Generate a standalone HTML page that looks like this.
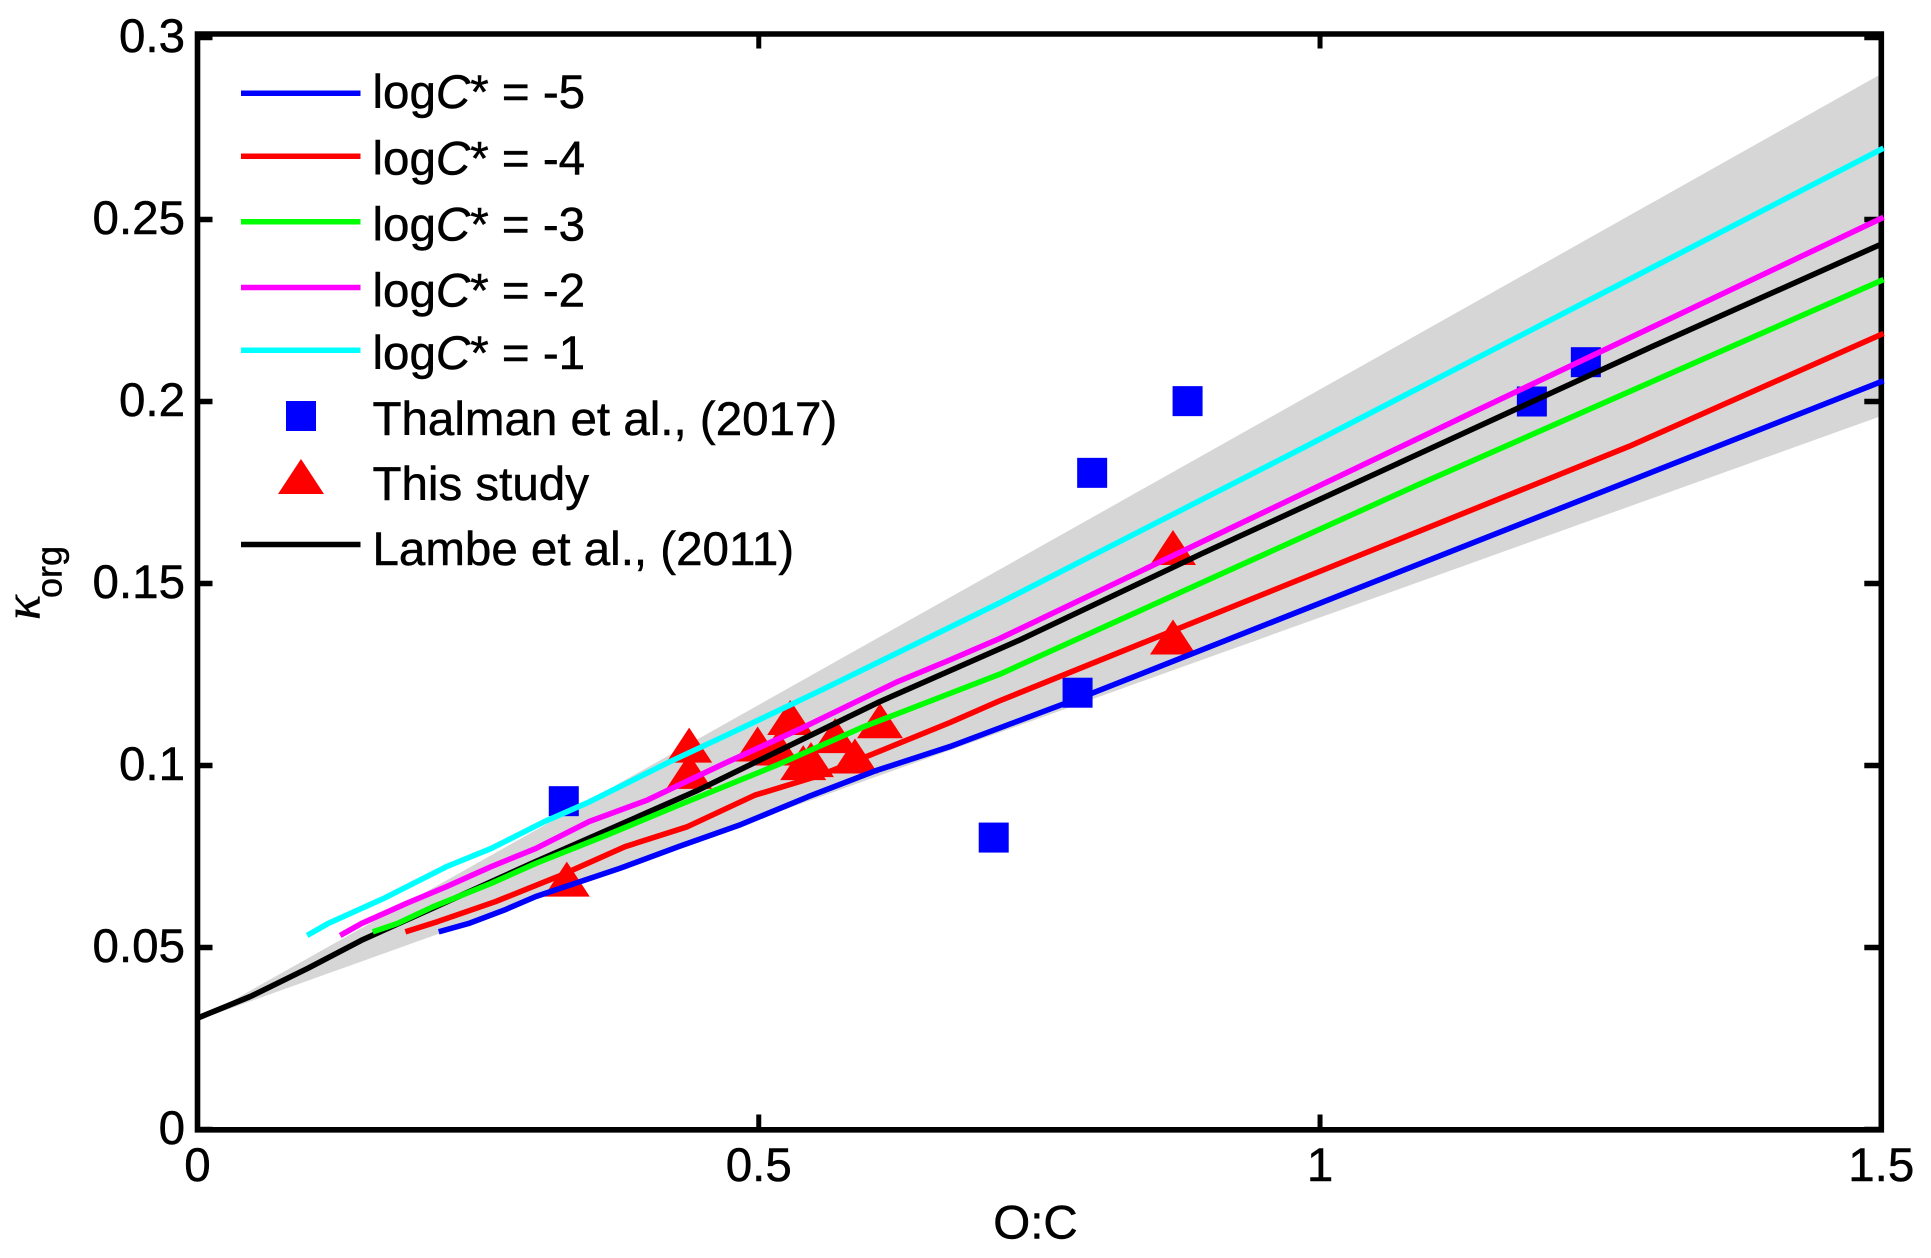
<!DOCTYPE html>
<html>
<head>
<meta charset="utf-8">
<title>Kappa org vs O:C</title>
<style>
html,body{margin:0;padding:0;background:#fff;}
svg{display:block;}
text{font-family:"Liberation Sans",Arial,sans-serif;font-size:47.5px;fill:#000;stroke:#000;stroke-width:0.5px;}
</style>
</head>
<body>
<svg id="chart" xmlns="http://www.w3.org/2000/svg" width="1931" height="1258" viewBox="0 0 1931 1258">
  <rect x="0" y="0" width="1931" height="1258" fill="#fff"/>
  <g id="plot"></g>
  <g>
    <text transform="translate(39.5,620) rotate(-90)" style="font-family:'Liberation Serif','DejaVu Serif',serif;font-style:italic;font-size:52px;">κ</text>
    <text transform="translate(61.7,598) rotate(-90)" style="font-size:36px;">org</text>
  </g>
  <text x="1035.5" y="1238.5" text-anchor="middle">O:C</text>
  <g>
    <g>
      <line x1="241" x2="360.5" y1="93.3" y2="93.3" stroke="#0000ff" stroke-width="5.5"/>
      <text x="372.5" y="108">log<tspan font-style="italic">C</tspan>* = -5</text>
    </g>
    <g>
      <line x1="241" x2="360.5" y1="156.2" y2="156.2" stroke="#ff0000" stroke-width="5.5"/>
      <text x="372.5" y="174.4">log<tspan font-style="italic">C</tspan>* = -4</text>
    </g>
    <g>
      <line x1="241" x2="360.5" y1="221.8" y2="221.8" stroke="#00ff00" stroke-width="5.5"/>
      <text x="372.5" y="240.4">log<tspan font-style="italic">C</tspan>* = -3</text>
    </g>
    <g>
      <line x1="241" x2="360.5" y1="287.5" y2="287.5" stroke="#ff00ff" stroke-width="5.5"/>
      <text x="372.5" y="306.4">log<tspan font-style="italic">C</tspan>* = -2</text>
    </g>
    <g>
      <line x1="241" x2="360.5" y1="350.3" y2="350.3" stroke="#00ffff" stroke-width="5.5"/>
      <text x="372.5" y="369">log<tspan font-style="italic">C</tspan>* = -1</text>
    </g>
    <g>
      <rect x="286" y="401" width="30" height="30" fill="#0000ff"/>
      <text x="372.5" y="435">Thalman et al., (2017)</text>
    </g>
    <g>
      <polygon points="301,459 324,494 278,494" fill="#ff0000"/>
      <text x="372.5" y="500">This study</text>
    </g>
    <g>
      <line x1="241" x2="360.5" y1="544.5" y2="544.5" stroke="#000000" stroke-width="5.5"/>
      <text x="372.5" y="565">Lambe et al., (2011)</text>
    </g>
  </g>
</svg>
<script>
var xTickLabels = ["0","0.5","1","1.5"];
var yTickLabels = ["0","0.05","0.1","0.15","0.2","0.25","0.3"];

var bandX = [0, 1.5];
var bandUpper = [0.03, 0.2900];
var bandLower = [0.03, 0.1960];

var thalmanX = [0.3263, 0.7093, 0.784, 0.797, 0.882, 1.1887, 1.2368];
var thalmanY = [0.0902, 0.0802, 0.12, 0.1804, 0.2001, 0.2, 0.2108];

var studyX = [0.438, 0.438, 0.499, 0.528, 0.517, 0.5396, 0.5465, 0.568, 0.5857, 0.608, 0.329, 0.869, 0.869];
var studyY = [0.1056, 0.0984, 0.1059, 0.1132, 0.1048, 0.1008, 0.1016, 0.1082, 0.1026, 0.1123, 0.0688, 0.1599, 0.1353];

var lambeX = [0, 0.0468, 0.0984, 0.1462, 0.2059, 0.3013, 0.4444, 0.6075, 0.7326, 0.8947, 1.085, 1.2966, 1.499];
var lambeY = [0.0306, 0.0365, 0.0443, 0.052, 0.0603, 0.0736, 0.093, 0.1175, 0.1345, 0.1582, 0.1852, 0.2152, 0.2431];

var blueX = [0.2149, 0.2416, 0.2734, 0.3013, 0.3768, 0.4285, 0.4842, 0.5438, 0.6035, 0.6703, 0.794, 1.138, 1.502];
var blueY = [0.0543, 0.0566, 0.0603, 0.064, 0.0718, 0.0777, 0.0838, 0.0914, 0.0985, 0.1052, 0.1195, 0.1614, 0.2057];

var redX = [0.1852, 0.2138, 0.2654, 0.3211, 0.3808, 0.4365, 0.4961, 0.5557, 0.6703, 0.7148, 1.2755, 1.502];
var redY = [0.0543, 0.0571, 0.0626, 0.0695, 0.0777, 0.0832, 0.0918, 0.0974, 0.1118, 0.1178, 0.1877, 0.2187];

var greenX = [0.1561, 0.178, 0.2098, 0.2615, 0.3013, 0.3648, 0.4285, 0.516, 0.5915, 0.6703, 0.7148, 1.085, 1.502];
var greenY = [0.0543, 0.0566, 0.0612, 0.0676, 0.0731, 0.0809, 0.0891, 0.1001, 0.1104, 0.1198, 0.1251, 0.1768, 0.2335];

var magentaX = [0.1271, 0.1462, 0.186, 0.2217, 0.2615, 0.3013, 0.349, 0.4007, 0.4682, 0.5399, 0.6234, 0.6703, 0.7148, 1.138, 1.502];
var magentaY = [0.0533, 0.0566, 0.0621, 0.0667, 0.0722, 0.0772, 0.0846, 0.0905, 0.1004, 0.1105, 0.123, 0.129, 0.1349, 0.1973, 0.2506];

var cyanX = [0.0977, 0.1164, 0.166, 0.2217, 0.2615, 0.3092, 0.349, 0.4205, 0.4842, 0.5557, 0.6472, 0.7148, 0.9794, 1.502];
var cyanY = [0.0533, 0.0566, 0.0635, 0.0722, 0.0772, 0.0846, 0.09, 0.101, 0.1102, 0.1207, 0.1345, 0.1447, 0.1864, 0.2696];

var NS = "http://www.w3.org/2000/svg";
var plot = document.getElementById("plot");
var left = 197.5, right = 1881.3, bottom = 1129.5, top37 = 37.5;
var xMax = 1.5, yMax = 0.3;

function sx(v) { return left + v / xMax * (right - left); }
function sy(v) { return bottom - v / yMax * (bottom - top37); }

function mk(tag, attrs, parent) {
  var el = document.createElementNS(NS, tag);
  for (var k in attrs) { el.setAttribute(k, attrs[k]); }
  (parent || plot).appendChild(el);
  return el;
}
function pts(xs, ys) {
  return xs.map(function (x, i) { return sx(x).toFixed(2) + "," + sy(ys[i]).toFixed(2); }).join(" ");
}

/* uncertainty band */
var band = mk("polygon", {
  points: pts(bandX.concat(bandX.slice().reverse()), bandUpper.concat(bandLower.slice().reverse())),
  fill: "#d6d6d6"
});



/* Thalman squares */
thalmanX.forEach(function (x, i) {
  var s = mk("rect", { x: sx(x) - 15, y: sy(thalmanY[i]) - 15, width: 30, height: 30, fill: "#0000ff" });
  
  
});

/* This-study triangles */
studyX.forEach(function (x, i) {
  var cx = sx(x), cy = sy(studyY[i]);
  var t = mk("polygon", {
    points: cx + "," + (cy - 17.5) + " " + (cx + 23) + "," + (cy + 17.5) + " " + (cx - 23) + "," + (cy + 17.5),
    fill: "#ff0000"
  });
  
  
});

/* Lambe line sits under the axes */
var lambeLine = mk("polyline", { points: pts(lambeX, lambeY), fill: "none", stroke: "#000000", "stroke-width": 5.6, "stroke-linejoin": "round" });



/* axes box */
var box = mk("path", {
  d: "M" + left + " " + (top37 - 3.5) + "H" + right + "V" + (bottom + 0.3) + "H" + left + "Z",
  fill: "none", stroke: "#000", "stroke-width": 5.6, "stroke-linecap": "square"
});



/* y ticks and labels */
yTickLabels.forEach(function (lab) {
  var v = parseFloat(lab), y = sy(v);
  var tl = mk("line", { x1: left, x2: left + 15, y1: y, y2: y, stroke: "#000", "stroke-width": 5.5 });
  
  
  var tr = mk("line", { x1: right, x2: right - 17, y1: y, y2: y, stroke: "#000", "stroke-width": 5.5 });
  
  
  var t = mk("text", { x: 185, y: y + 14.5, "text-anchor": "end" });
  
  
  t.textContent = lab;
});

/* x ticks and labels */
xTickLabels.forEach(function (lab) {
  var v = parseFloat(lab), x = sx(v);
  var tb = mk("line", { x1: x, x2: x, y1: bottom, y2: bottom - 15, stroke: "#000", "stroke-width": 5 });
  
  
  var tt = mk("line", { x1: x, x2: x, y1: top37 - 3, y2: top37 + 11, stroke: "#000", "stroke-width": 5 });
  
  
  var t = mk("text", { x: x, y: 1181, "text-anchor": "middle" });
  
  
  t.textContent = lab;
});

/* volatility series on top */
var blueLine = mk("polyline", { points: pts(blueX, blueY), fill: "none", stroke: "#0000ff", "stroke-width": 5.6, "stroke-linejoin": "round" });


var redLine = mk("polyline", { points: pts(redX, redY), fill: "none", stroke: "#ff0000", "stroke-width": 5.6, "stroke-linejoin": "round" });


var greenLine = mk("polyline", { points: pts(greenX, greenY), fill: "none", stroke: "#00ff00", "stroke-width": 5.6, "stroke-linejoin": "round" });


var magentaLine = mk("polyline", { points: pts(magentaX, magentaY), fill: "none", stroke: "#ff00ff", "stroke-width": 5.6, "stroke-linejoin": "round" });


var cyanLine = mk("polyline", { points: pts(cyanX, cyanY), fill: "none", stroke: "#00ffff", "stroke-width": 5.6, "stroke-linejoin": "round" });


</script>
</body>
</html>
